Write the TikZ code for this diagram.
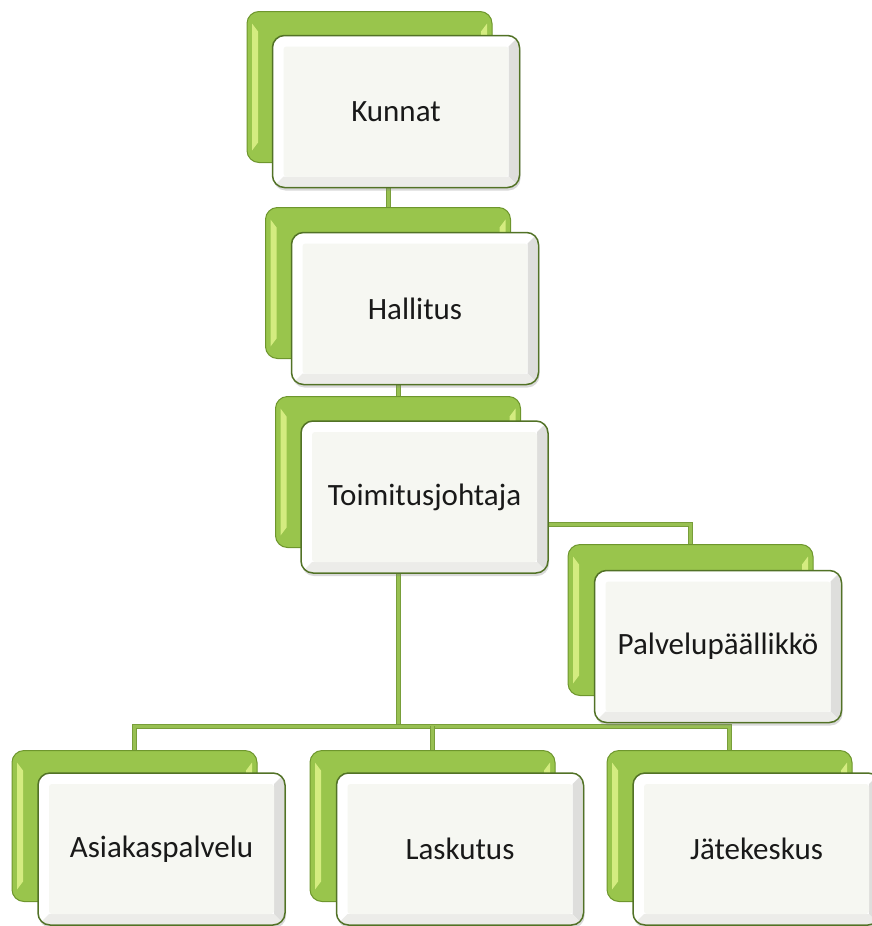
\documentclass[tikz,border=0pt]{standalone}
\usepackage{fontspec}
\setmainfont{Carlito}
\usetikzlibrary{shadows,backgrounds}

\definecolor{leafmain}{RGB}{153,197,76}
\definecolor{leafdark}{RGB}{110,150,45}
\definecolor{leaflight}{RGB}{212,236,128}
\definecolor{cardedge}{RGB}{82,114,38}
\definecolor{cardface}{RGB}{246,247,242}
\definecolor{cardbevel}{RGB}{222,222,220}
\definecolor{cardlow}{RGB}{236,236,233}
\definecolor{linkmain}{RGB}{152,192,82}
\definecolor{linkdark}{RGB}{120,158,58}

\tikzset{
  backcard/.style={rounded corners=12pt, minimum width=245pt, minimum height=151pt,
    inner sep=0pt, fill=leafmain, draw=leafdark, line width=1pt,
    path picture={
      \fill[leaflight, sharp corners]
        ([xshift=5pt,yshift=-12pt]path picture bounding box.north west)
        -- ([xshift=11pt,yshift=-20pt]path picture bounding box.north west)
        -- ([xshift=11pt,yshift=20pt]path picture bounding box.south west)
        -- ([xshift=5pt,yshift=12pt]path picture bounding box.south west) -- cycle;
      \fill[leaflight, sharp corners]
        ([xshift=-5pt,yshift=-12pt]path picture bounding box.north east)
        -- ([xshift=-11pt,yshift=-20pt]path picture bounding box.north east)
        -- ([xshift=-11pt,yshift=20pt]path picture bounding box.south east)
        -- ([xshift=-5pt,yshift=12pt]path picture bounding box.south east) -- cycle;
    }},
  frontcard/.style={rounded corners=12pt, minimum width=247pt, minimum height=152pt,
    inner sep=0pt, fill=white, draw=cardedge, line width=1.5pt,
    font=\fontsize{31}{37}\selectfont, text=black!90,
    drop shadow={shadow xshift=1pt, shadow yshift=-3pt, opacity=0.3},
    path picture={
      \fill[cardbevel, sharp corners]
        ([xshift=-1pt,yshift=-1pt]path picture bounding box.north east)
        -- ([xshift=-11pt,yshift=-11pt]path picture bounding box.north east)
        -- ([xshift=-11pt,yshift=11pt]path picture bounding box.south east)
        -- ([xshift=-1pt,yshift=1pt]path picture bounding box.south east) -- cycle;
      \fill[cardlow, sharp corners]
        ([xshift=1pt,yshift=1pt]path picture bounding box.south west)
        -- ([xshift=11pt,yshift=11pt]path picture bounding box.south west)
        -- ([xshift=-11pt,yshift=11pt]path picture bounding box.south east)
        -- ([xshift=-1pt,yshift=1pt]path picture bounding box.south east) -- cycle;
      \fill[cardface, rounded corners=3pt]
        ([xshift=11pt,yshift=-11pt]path picture bounding box.north west)
        rectangle ([xshift=-11pt,yshift=11pt]path picture bounding box.south east);
    }},
  link/.style={draw=linkdark, line width=1pt, double=linkmain, double distance=3pt}
}

\begin{document}
\begin{tikzpicture}[x=1pt,y=-1pt]
  \useasboundingbox (0,0) rectangle (871,926);

  % organisation levels: green back card, white front card
  \node[backcard]  (kB) at (369.5,87) {};
  \node[frontcard] (kF) at (396,111.5) {Kunnat};

  \node[backcard]  (hB) at (388,283) {};
  \node[frontcard] (hF) at (415,308.5) {Hallitus};

  \node[backcard]  (tB) at (398,472) {};
  \node[frontcard] (tF) at (424.5,497) {Toimitusjohtaja};

  \node[backcard]  (pB) at (690.5,620) {};
  \node[frontcard] (pF) at (718,646.5) {Palvelupäällikkö};

  \node[backcard]  (aB) at (134.5,826) {};
  \node[frontcard] (aF) at (161.5,849) {Asiakaspalvelu};

  \node[backcard]  (lB) at (432.5,826) {};
  \node[frontcard] (lF) at (460,849) {Laskutus};

  \node[backcard]  (jB) at (729.5,826) {};
  \node[frontcard] (jF) at (756.5,849) {Jätekeskus};

  % connectors run behind the cards
  \coordinate (bus) at (0,726);
  \coordinate (tap) at (0,524);
  \begin{pgfonlayer}{background}
    \draw[link] (hB.north) -- (hB.north |- kF.center);
    \draw[link] (tB.north) -- (tB.north |- hF.center);
    \draw[link] (tB.center) -- (tB.center |- bus);
    \draw[link] (aB.north) |- (tB.center |- bus) -| (jB.north);
    \draw[link] (lB.north) -- (lB.north |- bus);
    \draw[link] (tF.center |- tap) -| (pB.north);
  \end{pgfonlayer}
\end{tikzpicture}
\end{document}
